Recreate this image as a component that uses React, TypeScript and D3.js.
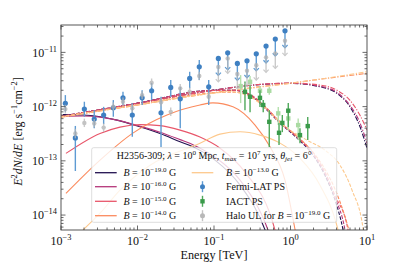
import { useEffect, useRef } from 'react'
import * as d3 from 'd3'

type Pt = [number, number]

// Fermi-LAT PS detections (E in TeV, E^2 dN/dE in erg s^-1 cm^-2)
const fermiE = [1.14e-3, 1.54e-3, 2.02e-3, 2.72e-3, 3.61e-3, 4.83e-3, 6.46e-3, 8.55e-3, 1.15e-2, 1.53e-2, 2.03e-2, 2.72e-2, 3.62e-2, 4.81e-2, 6.42e-2, 8.53e-2]
const fermiF = [1.15e-12, 2.65e-13, 9.0e-13, 5.9e-13, 7.0e-13, 9.5e-13, 1.45e-12, 7.0e-13, 1.45e-12, 1.96e-12, 7.7e-13, 2.26e-12, 1.39e-12, 3.31e-12, 5.42e-12, 2.32e-12]
const fermiLo = [8.0e-13, 6.5e-14, 6.5e-13, 4.0e-13, 4.75e-13, 6.5e-13, 1.07e-12, 2.77e-13, 1.07e-12, 1.32e-12, 1.8e-13, 1.52e-12, 4.0e-13, 2.17e-12, 3.08e-12, 1.07e-12]
const fermiHi = [1.63e-12, 4.4e-13, 1.23e-12, 8.6e-13, 9.9e-13, 1.32e-12, 1.88e-12, 1.15e-12, 2.0e-12, 2.75e-12, 1.52e-12, 3.08e-12, 2.32e-12, 4.39e-12, 7.2e-12, 3.08e-12]
const fermiUlE = [0.114, 0.151, 0.202, 0.270, 0.357, 0.479, 0.633, 0.847]
const fermiUlF = [7.75e-12, 9.8e-12, 6.27e-12, 7.0e-12, 9.4e-12, 1.31e-11, 1.76e-11, 2.5e-11]

// halo upper limits for B = 1e-19 G
const haloF = [9.0e-13, 3.2e-13, 5.0e-13, 4.9e-13, 4.1e-13, 1.0e-12, 1.23e-12, 9.3e-13, 1.63e-12, 2.75e-12, 1.2e-12, 8.0e-13, 2.17e-12, 1.88e-12, 3.66e-12, 1.52e-12]
const haloLo = [7.5e-13, 2.6e-13, 4.2e-13, 4.1e-13, 3.4e-13, 8.4e-13, 1.03e-12, 7.8e-13, 1.37e-12, 2.3e-12, 1.0e-12, 6.7e-13, 1.82e-12, 1.58e-12, 3.07e-12, 1.27e-12]
const haloHi = [1.08e-12, 3.9e-13, 6.0e-13, 5.9e-13, 4.9e-13, 1.2e-12, 1.47e-12, 1.11e-12, 1.95e-12, 3.3e-12, 1.45e-12, 9.6e-13, 2.6e-12, 2.25e-12, 4.4e-12, 1.82e-12]
const haloUlF = [5.4e-12, 7.75e-12, 4.0e-12, 4.6e-12, 5.8e-12, 8.1e-12, 9.6e-12, 1.64e-11]

// IACT PS
const iactE = [0.254, 0.296, 0.399, 0.440, 0.528, 0.708, 0.782, 0.935, 1.33, 1.68]
const iactF = [1.88e-12, 1.52e-12, 1.45e-12, 1.07e-12, 5.24e-13, 3.29e-13, 5.0e-13, 8.4e-13, 2.98e-13, 4.37e-13]
const iactLo = [8.6e-13, 7.9e-13, 9.8e-13, 7.9e-13, 1.79e-13, 1.95e-13, 3.38e-13, 4.19e-13, 2.12e-13, 2.41e-13]
const iactHi = [2.9e-12, 2.49e-12, 2.0e-12, 1.32e-12, 8.6e-13, 4.96e-13, 7.0e-13, 1.16e-12, 4.0e-13, 6.4e-13]
const iactFadedE = [0.223, 0.296, 0.399, 0.528, 0.692, 0.935, 1.26]
const iactFadedF = [2.39e-12, 2.87e-12, 1.96e-12, 1.96e-12, 7.5e-13, 6.05e-13, 4.56e-13]
const iactFadedLo = [1.16e-12, 2.0e-12, 1.56e-12, 1.65e-12, 4.56e-13, 3.68e-13, 2.41e-13]
const iactFadedHi = [3.81e-12, 3.66e-12, 2.39e-12, 2.3e-12, 9.8e-13, 8.6e-13, 6.05e-13]

// magnetic field values and their colours
const fields = ['-19.0', '-16.0', '-15.0', '-14.0', '-13.0']
const colors = ['#221150', '#b5367a', '#e8566a', '#fb8b5e', '#fdc98d']

// cascade component (solid)
const cascade: Pt[][] = [
  [[1.06e-3, 7.1e-13], [1.94e-3, 7.0e-13], [3.24e-3, 6.5e-13], [5.4e-3, 5.64e-13], [1.08e-2, 4.24e-13], [1.97e-2, 3.2e-13], [3.6e-2, 2.25e-13], [5.3e-2, 1.81e-13], [0.103, 1.03e-13], [0.219, 3.56e-14], [0.465, 5.3e-15], [0.573, 2.2e-15]],
  [[1.06e-3, 6.6e-13], [1.94e-3, 6.7e-13], [3.24e-3, 6.4e-13], [5.4e-3, 5.64e-13], [1.08e-2, 4.35e-13], [1.97e-2, 3.37e-13], [3.6e-2, 2.46e-13], [5.3e-2, 1.99e-13], [0.103, 1.17e-13], [0.219, 4.4e-14], [0.508, 5.3e-15], [0.626, 2.2e-15]],
  [[1.16e-3, 1.37e-13], [3.24e-3, 3.2e-13], [5.9e-3, 4.19e-13], [1.08e-2, 4.66e-13], [1.97e-2, 4.46e-13], [3.6e-2, 3.68e-13], [6.56e-2, 2.74e-13], [0.120, 1.71e-13], [0.254, 6.2e-14], [0.626, 5.3e-15], [0.73, 2.2e-15]],
  [[1.16e-3, 2.5e-14], [3.24e-3, 1.03e-13], [8.7e-3, 3.24e-13], [2.43e-2, 7.0e-13], [6.56e-2, 1.07e-12], [9.7e-2, 1.17e-12], [0.177, 9.9e-13], [0.344, 4.56e-13], [0.54, 1.81e-13], [0.847, 4.4e-14], [1.15, 5.3e-15], [1.3, 2.2e-15]],
  [[1.94e-3, 5.3e-15], [3.24e-3, 1.08e-14], [5.9e-3, 2.88e-14], [1.46e-2, 8.3e-14], [6.56e-2, 2.1e-13], [0.120, 3.11e-13], [0.219, 3.43e-13], [0.399, 2.98e-13], [0.73, 2.12e-13], [1.33, 1.12e-13], [2.43, 3.56e-14], [4.18, 5.3e-15], [4.8, 2.2e-15]],
]

// intrinsic spectrum (dash-dot)
const intrinsic: Pt[][] = [
  [[1e-3, 6.5e-13], [3.24e-3, 8.6e-13], [1.0e-2, 1.15e-12], [2.91e-2, 1.52e-12], [9.7e-2, 2.0e-12], [0.324, 2.49e-12], [0.985, 2.68e-12], [2.43, 2.32e-12], [4.06, 1.75e-12], [6.0, 9.9e-13], [8.1, 4.24e-13], [10, 1.71e-13]],
  [[1e-3, 6.5e-13], [3.24e-3, 8.6e-13], [1.0e-2, 1.15e-12], [2.91e-2, 1.52e-12], [9.7e-2, 2.0e-12], [0.324, 2.5e-12], [0.985, 2.7e-12], [2.43, 2.38e-12], [4.06, 1.82e-12], [6.0, 1.05e-12], [8.1, 5.0e-13], [10, 2.1e-13]],
  [[1e-3, 6.5e-13], [3.24e-3, 8.6e-13], [1.0e-2, 1.14e-12], [2.91e-2, 1.5e-12], [9.7e-2, 1.98e-12], [0.324, 2.5e-12], [0.985, 2.72e-12], [2.43, 2.5e-12], [4.06, 2.0e-12], [6.0, 1.3e-12], [8.1, 6.9e-13], [10, 3.7e-13]],
  [[1e-3, 6.4e-13], [3.24e-3, 8.3e-13], [1.0e-2, 1.07e-12], [2.91e-2, 1.38e-12], [9.7e-2, 1.8e-12], [0.324, 2.25e-12], [0.985, 2.7e-12], [2.43, 3.2e-12], [10, 4.1e-12]],
  [[1e-3, 6.4e-13], [3.24e-3, 8.3e-13], [1.0e-2, 1.07e-12], [2.91e-2, 1.38e-12], [9.7e-2, 1.77e-12], [0.324, 2.2e-12], [0.985, 2.68e-12], [2.43, 3.21e-12], [10, 4.4e-12]],
]

// observed spectrum (dashed)
const observed: Pt[][] = [
  [[1e-3, 6.6e-13], [1.0e-2, 1.16e-12], [9.7e-2, 2.0e-12], [0.18, 2.0e-12], [0.296, 1.63e-12], [0.465, 9.4e-13], [0.73, 4.96e-13], [1.22, 2.62e-13], [1.97, 1.27e-13], [2.82, 5.4e-14], [3.82, 1.88e-14], [4.86, 5.3e-15], [5.4, 2.2e-15]],
  [[1e-3, 6.6e-13], [1.0e-2, 1.16e-12], [9.7e-2, 2.0e-12], [0.18, 2.0e-12], [0.296, 1.65e-12], [0.465, 9.6e-13], [0.73, 5.05e-13], [1.22, 2.7e-13], [1.97, 1.32e-13], [2.82, 5.8e-14], [3.82, 2.1e-14], [5.16, 5.3e-15], [5.7, 2.2e-15]],
  [[1e-3, 6.6e-13], [1.0e-2, 1.15e-12], [9.7e-2, 1.98e-12], [0.18, 2.0e-12], [0.296, 1.68e-12], [0.465, 1.0e-12], [0.73, 5.2e-13], [1.22, 2.8e-13], [1.97, 1.4e-13], [2.82, 6.2e-14], [3.82, 2.3e-14], [5.65, 5.3e-15], [6.2, 2.2e-15]],
  [[1e-3, 6.5e-13], [1.0e-2, 1.08e-12], [9.7e-2, 1.8e-12], [0.18, 1.85e-12], [0.296, 1.55e-12], [0.465, 9.8e-13], [0.8, 4.6e-13], [1.22, 2.8e-13], [1.97, 1.45e-13], [2.82, 7.0e-14], [3.82, 3.0e-14], [5.2, 9e-15], [6.0, 4.5e-15]],
  [[1e-3, 6.5e-13], [1.0e-2, 1.08e-12], [9.7e-2, 1.77e-12], [0.162, 1.88e-12], [0.296, 1.52e-12], [0.399, 1.15e-12], [0.798, 4.56e-13], [1.64, 2.41e-13], [2.82, 1.57e-13], [4.44, 8.3e-14], [6.37, 2.88e-14], [8.87, 5.7e-15], [9.5, 2.5e-15]],
]

const xMajor = [1e-3, 1e-2, 1e-1, 1e0, 1e1]
const xLabels = ['−3', '−2', '−1', '0', '1']
const yMajor = [1e-14, 1e-13, 1e-12, 1e-11]
const yLabels = ['−14', '−13', '−12', '−11']

type Seg = { t: string; it?: boolean; sup?: boolean; sub?: boolean }

function mathText(sel: d3.Selection<SVGTextElement, unknown, null, undefined>, segs: Seg[], fs: number) {
  let shift = 0
  segs.forEach(s => {
    const target = s.sup ? -0.42 * fs : s.sub ? 0.22 * fs : 0
    sel.append('tspan')
      .attr('dy', target - shift)
      .attr('font-size', s.sup || s.sub ? fs * 0.7 : fs)
      .attr('font-style', s.it ? 'italic' : 'normal')
      .text(s.t)
    shift = target
  })
}

const W = 407
const H = 271
const FONT = '"Liberation Serif", "Times New Roman", serif'

export default function App() {
  const svgRef = useRef<SVGSVGElement>(null)

  useEffect(() => {
    if (!svgRef.current) return
    const svg = d3.select(svgRef.current)
    svg.selectAll('*').remove()

    const margin = { top: 25, right: 40, bottom: 41, left: 61 }
    const x = d3.scaleLog().domain([1e-3, 10]).range([margin.left, W - margin.right])
    const y = d3.scaleLog().domain([5.3e-15, 3.2e-11]).range([H - margin.bottom, margin.top])
    const [x0, x1] = x.range()
    const [y1, y0] = y.range()

    svg.append('rect').attr('width', W).attr('height', H).attr('fill', '#fff')

    svg.append('clipPath').attr('id', 'plot-clip')
      .append('rect').attr('x', x0).attr('y', y0).attr('width', x1 - x0).attr('height', y1 - y0)

    const plot = svg.append('g').attr('clip-path', 'url(#plot-clip)')
    const line = d3.line<Pt>().x(d => x(d[0])).y(d => y(d[1])).curve(d3.curveMonotoneX)

    // model curves
    cascade.forEach((c, i) => {
      plot.append('path').attr('d', line(c)).attr('fill', 'none')
        .attr('stroke', colors[i]).attr('stroke-width', 1.1)
    })
    intrinsic.forEach((c, i) => {
      plot.append('path').attr('d', line(c)).attr('fill', 'none')
        .attr('stroke', colors[i]).attr('stroke-width', 1.1)
        .attr('stroke-dasharray', '5,1.6,1.2,1.6')
    })
    observed.forEach((c, i) => {
      plot.append('path').attr('d', line(c)).attr('fill', 'none')
        .attr('stroke', colors[i]).attr('stroke-width', 1.1)
        .attr('stroke-dasharray', '3.5,1.6')
    })

    // Fermi-LAT
    const blue = '#3f80c2'
    fermiE.forEach((e, i) => {
      plot.append('line').attr('x1', x(e)).attr('x2', x(e))
        .attr('y1', y(fermiLo[i])).attr('y2', y(fermiHi[i]))
        .attr('stroke', '#5e9bd3').attr('stroke-width', 1.4)
      plot.append('circle').attr('cx', x(e)).attr('cy', y(fermiF[i])).attr('r', 2.6).attr('fill', blue)
    })
    const arrow = (g: typeof plot, cx: number, cy: number, col: string, len: number) => {
      g.append('line').attr('x1', cx).attr('x2', cx).attr('y1', cy).attr('y2', cy + len)
        .attr('stroke', col).attr('stroke-width', 1.4)
      g.append('path')
        .attr('d', `M${cx - 2.6},${cy + len - 2.8}L${cx},${cy + len}L${cx + 2.6},${cy + len - 2.8}`)
        .attr('fill', 'none').attr('stroke', col).attr('stroke-width', 1.2)
    }
    fermiUlE.forEach((e, i) => {
      arrow(plot, x(e), y(fermiUlF[i]), '#5e9bd3', 17)
      plot.append('circle').attr('cx', x(e)).attr('cy', y(fermiUlF[i])).attr('r', 2.6).attr('fill', blue)
    })

    // IACT
    const sq = 4.4
    iactFadedE.forEach((e, i) => {
      plot.append('line').attr('x1', x(e)).attr('x2', x(e))
        .attr('y1', y(iactFadedLo[i])).attr('y2', y(iactFadedHi[i]))
        .attr('stroke', '#b4e0ad').attr('stroke-width', 1.4)
      plot.append('rect').attr('x', x(e) - sq / 2).attr('y', y(iactFadedF[i]) - sq / 2)
        .attr('width', sq).attr('height', sq).attr('fill', '#aadba3')
    })
    iactE.forEach((e, i) => {
      plot.append('line').attr('x1', x(e)).attr('x2', x(e))
        .attr('y1', y(iactLo[i])).attr('y2', y(iactHi[i]))
        .attr('stroke', '#4ea85a').attr('stroke-width', 1.4)
      plot.append('rect').attr('x', x(e) - sq / 2).attr('y', y(iactF[i]) - sq / 2)
        .attr('width', sq).attr('height', sq).attr('fill', '#3a9a4a')
    })

    // halo upper limits
    const grey = g => g.attr('opacity', 0.75)
    const halo = plot.append('g').call(grey)
    fermiE.forEach((e, i) => {
      halo.append('line').attr('x1', x(e)).attr('x2', x(e))
        .attr('y1', y(haloLo[i])).attr('y2', y(haloHi[i]))
        .attr('stroke', '#b9b9b9').attr('stroke-width', 1.4)
      halo.append('circle').attr('cx', x(e)).attr('cy', y(haloF[i])).attr('r', 2.2).attr('fill', '#b0b0b0')
    })
    fermiUlE.forEach((e, i) => {
      arrow(halo, x(e), y(haloUlF[i]), '#b9b9b9', 15)
      halo.append('circle').attr('cx', x(e)).attr('cy', y(haloUlF[i])).attr('r', 2.2).attr('fill', '#b0b0b0')
    })

    // frame and ticks
    const axisCol = '#444'
    svg.append('rect').attr('x', x0).attr('y', y0).attr('width', x1 - x0).attr('height', y1 - y0)
      .attr('fill', 'none').attr('stroke', axisCol).attr('stroke-width', 0.9)
    const ticks = svg.append('g').attr('stroke', axisCol).attr('stroke-width', 0.8)
    const xMinor: number[] = []
    for (let k = -3; k < 1; k++) for (let m = 2; m < 10; m++) xMinor.push(m * 10 ** k)
    const yMinor: number[] = []
    for (let k = -15; k < -10; k++) for (let m = 2; m < 10; m++) {
      const v = m * 10 ** k
      if (v > 5.3e-15 && v < 3.2e-11) yMinor.push(v)
    }
    const xt = (v: number, len: number) => {
      ticks.append('line').attr('x1', x(v)).attr('x2', x(v)).attr('y1', y1).attr('y2', y1 - len)
      ticks.append('line').attr('x1', x(v)).attr('x2', x(v)).attr('y1', y0).attr('y2', y0 + len)
    }
    const yt = (v: number, len: number) => {
      ticks.append('line').attr('y1', y(v)).attr('y2', y(v)).attr('x1', x0).attr('x2', x0 + len)
      ticks.append('line').attr('y1', y(v)).attr('y2', y(v)).attr('x1', x1).attr('x2', x1 - len)
    }
    xMajor.forEach(v => xt(v, 4.5))
    xMinor.forEach(v => xt(v, 2.5))
    yMajor.forEach(v => yt(v, 4.5))
    yMinor.forEach(v => yt(v, 2.5))

    const fs = 12
    xMajor.forEach((v, i) => {
      const t = svg.append('text').attr('x', x(v)).attr('y', y1 + 15)
        .attr('text-anchor', 'middle').attr('font-family', FONT).attr('fill', '#111')
        .style('white-space', 'pre')
      mathText(t, [{ t: '10' }, { t: xLabels[i], sup: true }], fs)
    })
    yMajor.forEach((v, i) => {
      const t = svg.append('text').attr('x', x0 - 4).attr('y', y(v) + 4.2)
        .attr('text-anchor', 'end').attr('font-family', FONT).attr('fill', '#111')
        .style('white-space', 'pre')
      mathText(t, [{ t: '10' }, { t: yLabels[i], sup: true }], fs)
    })

    // axis labels
    const xl = svg.append('text').attr('x', (x0 + x1) / 2).attr('y', 259)
      .attr('text-anchor', 'middle').attr('font-family', FONT).attr('fill', '#111')
      .style('white-space', 'pre')
    mathText(xl, [{ t: 'Energy [TeV]' }], 12.2)
    const yl = svg.append('text').attr('transform', `translate(22,${(y0 + y1) / 2 + 4}) rotate(-90)`)
      .attr('text-anchor', 'middle').attr('font-family', FONT).attr('fill', '#111')
      .style('white-space', 'pre')
    mathText(yl, [
      { t: 'E', it: true }, { t: '2', sup: true }, { t: 'dN', it: true }, { t: '/' }, { t: 'dE', it: true },
      { t: ' [erg s' }, { t: '−1', sup: true }, { t: 'cm' }, { t: '−2', sup: true }, { t: ']' },
    ], 12)

    // legend
    const lg = svg.append('g')
    const lx = 91.7, ly = 147.7, lw = 245, lh = 74.6
    lg.append('rect').attr('x', lx).attr('y', ly).attr('width', lw).attr('height', lh).attr('rx', 2)
      .attr('fill', '#fff').attr('fill-opacity', 0.8).attr('stroke', '#d4d4d4').attr('stroke-width', 0.8)
    const lfs = 10
    const title = lg.append('text').attr('x', lx + lw / 2).attr('y', ly + 11)
      .attr('text-anchor', 'middle').attr('font-family', FONT).attr('fill', '#111')
      .style('white-space', 'pre')
    mathText(title, [
      { t: 'H2356-309; ' }, { t: 'λ', it: true }, { t: ' = 10' }, { t: '0', sup: true }, { t: ' Mpc, ' },
      { t: 't', it: true }, { t: 'max', it: true, sub: true }, { t: ' = 10' }, { t: '7', sup: true }, { t: ' yrs, ' },
      { t: 'θ', it: true }, { t: 'jet', it: true, sub: true }, { t: ' = 6°' },
    ], lfs)
    const rows = [ly + 25, ly + 39, ly + 53.6, ly + 68]
    const colA = { h0: 95, h1: 116.7, tx: 123.5 }
    const colB = { h0: 191.7, h1: 213.3, tx: 226 }
    const bLabel = (f: string): Seg[] => [{ t: 'B', it: true }, { t: ' = 10' }, { t: `−${f.slice(1)}`, sup: true }, { t: ' G' }]
    fields.forEach((f, i) => {
      const col = i < 4 ? colA : colB
      const ry = rows[i < 4 ? i : i - 4]
      lg.append('line').attr('x1', col.h0).attr('x2', col.h1).attr('y1', ry).attr('y2', ry)
        .attr('stroke', colors[i]).attr('stroke-width', 1.3)
      const t = lg.append('text').attr('x', col.tx).attr('y', ry + 3.6)
        .attr('font-family', FONT).attr('fill', '#111').style('white-space', 'pre')
      mathText(t, bLabel(f), lfs)
    })
    const hx = (colB.h0 + colB.h1) / 2
    const handles = [
      { label: [{ t: 'Fermi-LAT PS' }] as Seg[], bar: '#5e9bd3', fill: blue, shape: 'circle' },
      { label: [{ t: 'IACT PS' }] as Seg[], bar: '#4ea85a', fill: '#3a9a4a', shape: 'square' },
      { label: [{ t: 'Halo UL for ' }, ...bLabel('-19.0')], bar: '#c4c4c4', fill: '#b8b8b8', shape: 'circle' },
    ]
    handles.forEach((h, i) => {
      const ry = rows[i + 1]
      lg.append('line').attr('x1', hx).attr('x2', hx).attr('y1', ry - 5.5).attr('y2', ry + 5.5)
        .attr('stroke', h.bar).attr('stroke-width', 1.4)
      if (h.shape === 'circle') lg.append('circle').attr('cx', hx).attr('cy', ry).attr('r', 2.5).attr('fill', h.fill)
      else lg.append('rect').attr('x', hx - sq / 2).attr('y', ry - sq / 2).attr('width', sq).attr('height', sq).attr('fill', h.fill)
      const t = lg.append('text').attr('x', colB.tx).attr('y', ry + 3.6)
        .attr('font-family', FONT).attr('fill', '#111').style('white-space', 'pre')
      mathText(t, h.label, lfs)
    })
  }, [])

  return (
    <div style={{ position: 'absolute', left: 0, top: 0 }}>
      <svg ref={svgRef} width={W} height={H} />
    </div>
  )
}
